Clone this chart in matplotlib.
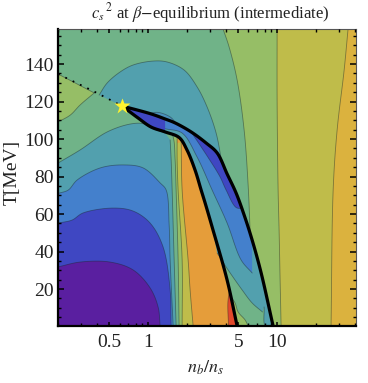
import numpy as np
import matplotlib
matplotlib.use("Agg")
import matplotlib.pyplot as plt
from matplotlib.ticker import FixedLocator, FixedFormatter, NullFormatter

plt.rcParams['font.family'] = ['Liberation Serif', 'DejaVu Serif']
plt.rcParams['mathtext.fontset'] = 'stix'

# colours of the contour levels
PURPLE = '#5A1FA0'
DARKBLUE = '#3F47C2'
BLUE = '#4480CC'
TEAL = '#52A0AE'
GREEN = '#70B388'
LIME = '#96BE66'
YELLOW = '#BFBC4A'
GOLD = '#DBB23E'
ORANGE = '#E59D3A'
RED = '#E2492B'

N_MIN, N_MAX = 0.2, 40.9
T_MIN, T_MAX = 0.3, 158.7

# all curves below are (n_b/n_s, T)
star = (0.629, 117.6)
dotted_line = [(0.2, 134.7), (0.375, 125.6), star]

upper_black = [star, (1.055, 113.4), (1.355, 110.7), (1.619, 108.6), (2.155, 103.8), (2.815, 97.9),
               (3.428, 92.6), (4.096, 81.4), (4.81, 71.2), (5.55, 59.5), (6.40, 46.2),
               (7.52, 28.6), (9.31, 0.3)]
lower_black = [star, (0.837, 111.2), (1.055, 106.4), (1.355, 103.8), (1.74, 100.8), (2.0, 94.2),
               (2.31, 83.5), (2.576, 72.8), (2.766, 65.9), (3.135, 53.1), (4.096, 24.8), (4.898, 0.3)]

# right hand side bands
lime_edge = [(3.81, 158.7), (4.245, 149.1), (4.898, 131.5), (5.55, 104.8), (5.96, 75.5), (6.18, 50.4)]
yellow_edge = [(10, 158.7), (10, 120.8), (10.18, 72.8), (10.36, 51.5), (10.55, 24.8), (10.74, 0.3)]
gold_edge = [(35.5, 158.7), (33.1, 136.8), (29.2, 104.8), (27.2, 72.8), (26.2, 0.3)]

# top left
lime_corner_top = [(0.2, 134.7), (0.382, 124.6)]
lime_corner_low = [(0.382, 124.6), (0.297, 118.2), (0.249, 112.8), (0.2, 109.1)]
teal_dome = [(0.417, 123.5), (0.481, 129.9), (0.607, 135.8), (0.765, 139.5), (1.093, 141.6),
             (1.404, 141.1), (1.902, 136.8), (2.398, 127.8), (2.866, 117.1), (3.366, 103.2),
             (3.74, 87.0)]
bump = [(1.036, 113.9), (1.2, 114.2), (1.481, 111.8), (1.65, 108.4)]

# stacked bands left of the lower black line
yellow_right = [(1.803, 98.4), (1.835, 72.8), (2.042, 35.5), (2.116, 19.5), (2.233, 0.3)]
lime_right = [(1.678, 101.6), (1.678, 88.8), (1.708, 72.8), (1.835, 35.5), (1.835, 0.3)]
green_right = [(1.429, 105.9), (1.563, 101.1), (1.619, 88.8), (1.648, 72.8), (1.708, 35.5), (1.738, 0.3)]
teal_top = [(0.2, 87.2), (0.297, 94.2), (0.481, 103.8), (0.725, 108.0), (0.915, 108.2), (1.05, 106.0), (1.355, 103.3)]
teal_right = [(1.481, 99.5), (1.508, 88.8), (1.535, 72.8), (1.591, 35.5), (1.648, 0.3)]
blue_top = [(0.2, 71.0), (0.24, 72.8), (0.282, 78.2), (0.425, 84.6), (0.64, 86.2), (0.915, 84.6),
            (1.239, 76.6), (1.38, 72.8), (1.455, 54.2), (1.481, 35.5), (1.563, 0.3)]
darkblue_top = [(0.2, 55.2), (0.257, 56.8), (0.313, 60.6), (0.535, 63.2), (0.765, 61.6), (1.036, 55.2),
                (1.307, 42.4), (1.481, 19.5), (1.508, 0.3)]
purple_top = [(0.2, 31.8), (0.297, 34.4), (0.507, 34.4), (0.765, 30.2), (1.036, 20.6), (1.195, 10.4), (1.239, 0.3)]
red_left = [(4.27, 19.5), (4.15, 12.6), (4.2, 0.3)]

# inside the region between the two black lines
wedge_teal_low = [(3.428, 39.2), (4.17, 30.2), (5.36, 19.5), (6.40, 12.6), (7.7, 7.8)]
wedge_spike = [(7.93, 10.4), (8.1, 0.3), (9.31, 0.3)]
wedge_lime = [(4.38, 15.8), (4.72, 12.6), (4.985, 7.8), (5.65, 3.5), (5.96, 0.3)]
wedge_blue_left = [(1.355, 105.5), (1.835, 103.2), (2.398, 90.4), (3.135, 72.8), (4.096, 55.2), (5.26, 35.5), (6.40, 28.6)]
wedge_dark_left = [(2.155, 103.8), (2.866, 91.0), (3.6, 80.0), (4.024, 72.8), (4.81, 63.5), (5.4, 63.0)]

x_major = [0.5, 1, 5, 10]
x_labels = ['0.5', '1', '5', '10']
x_minor = [0.2, 0.3, 0.4, 0.6, 0.7, 0.8, 0.9, 2, 3, 4, 6, 7, 8, 9, 20, 30, 40]
y_major = [20, 40, 60, 80, 100, 120, 140]
y_minor = [v for v in range(5, 160, 5) if v % 20 != 0]


def smooth(pts, k=10):
    # centripetal Catmull-Rom through the read points, log n and T scaled alike
    p = np.array(pts, dtype=float)
    if len(p) < 3:
        return p
    p[:, 0] = np.log10(p[:, 0]) * 129
    p[:, 1] = p[:, 1] * 1.875
    p = np.vstack([2 * p[0] - p[1], p, 2 * p[-1] - p[-2]])
    out = []
    for i in range(1, len(p) - 2):
        p0, p1, p2, p3 = p[i - 1], p[i], p[i + 1], p[i + 2]
        t1 = np.linalg.norm(p1 - p0) ** 0.5
        t2 = t1 + np.linalg.norm(p2 - p1) ** 0.5
        t3 = t2 + np.linalg.norm(p3 - p2) ** 0.5
        for t in np.linspace(t1, t2, k, endpoint=False):
            a1 = ((t1 - t) * p0 + t * p1) / t1
            a2 = ((t2 - t) * p1 + (t - t1) * p2) / (t2 - t1)
            a3 = ((t3 - t) * p2 + (t - t2) * p3) / (t3 - t2)
            b1 = ((t2 - t) * a1 + t * a2) / t2
            b2 = ((t3 - t) * a2 + (t - t1) * a3) / (t3 - t1)
            out.append(((t2 - t) * b1 + (t - t1) * b2) / (t2 - t1))
    out.append(p[-2])
    out = np.array(out)
    out[:, 0] = 10 ** (out[:, 0] / 129)
    out[:, 1] = out[:, 1] / 1.875
    return out


fig = plt.figure(figsize=(3.68, 3.83), dpi=100)
ax = fig.add_axes([58 / 368, 57 / 383, 298 / 368, 297 / 383])
ax.set_facecolor(GREEN)
ax.set_xscale('log')
ax.set_xlim(N_MIN, N_MAX)
ax.set_ylim(T_MIN, T_MAX)

z = [1.0]


def region(pieces, color, edge=True):
    # pieces are curves joined in order, smoothed one by one
    curves = [smooth(c) for c in pieces]
    poly = np.vstack(curves)
    z[0] += 0.01
    ax.fill(poly[:, 0], poly[:, 1], color=color, lw=0, zorder=z[0])
    if edge:
        for c in curves:
            ax.plot(c[:, 0], c[:, 1], color=(0.1, 0.15, 0.15, 0.45), lw=0.6, zorder=z[0] + 0.001)


def part(curve, a, b):
    return [p for p in curve if a <= p[0] <= b]


corner_bl = [(N_MIN, T_MIN), (N_MIN, 80)]

# right bands
black_low = [p for p in upper_black if p[0] >= 6.40]
region([lime_edge, black_low, [(N_MAX, T_MIN), (N_MAX, T_MAX)]], LIME)
region([yellow_edge, [(N_MAX, T_MIN), (N_MAX, T_MAX)]], YELLOW)
region([gold_edge, [(N_MAX, T_MIN), (N_MAX, T_MAX)]], GOLD)

# top left
region([lime_corner_top, lime_corner_low], LIME)
region([teal_dome, part(upper_black, 0.6, 3.5)[::-1]], TEAL)
region([bump, part(upper_black, 1.0, 1.62)[::-1]], '#4A8FBB')

# left of the lower black line
region([part(lower_black, 1.7, 5), corner_bl], ORANGE, edge=False)
region([red_left, [(4.898, 0.3), (4.27, 19.5)]], RED)
region([yellow_right, corner_bl], YELLOW)
region([lime_right, corner_bl], LIME)
region([green_right, corner_bl], GREEN)
region([teal_top, teal_right, [(N_MIN, T_MIN)]], TEAL)
region([blue_top, [(N_MIN, T_MIN)]], BLUE)
region([darkblue_top, [(N_MIN, T_MIN)]], DARKBLUE)
region([purple_top, [(N_MIN, T_MIN)]], PURPLE)

# between the black lines
region([upper_black, lower_black[::-1]], GREEN, edge=False)
region([wedge_lime, [(4.898, 0.3), (4.38, 15.8)]], LIME)
region([part(lower_black, 1.355, 3.2), wedge_teal_low, wedge_spike,
        part(upper_black, 1.355, 9.4)[::-1]], TEAL)
region([wedge_blue_left, [(6.40, 38.2)], part(upper_black, 1.355, 6.41)[::-1]], BLUE)
region([wedge_dark_left, part(upper_black, 2.1, 5.56)[::-1]], DARKBLUE)
region([part(upper_black, 0.6, 1.36), part(lower_black, 0.6, 1.36)[::-1]], DARKBLUE, edge=False)

for curve in (upper_black, lower_black):
    c = smooth(curve)
    ax.plot(c[:, 0], c[:, 1], color='black', lw=2.3, solid_capstyle='round', zorder=3)

ax.plot([p[0] for p in dotted_line], [p[1] for p in dotted_line], color='black', lw=1.3,
        ls=(0, (1, 3.5)), zorder=3)
ax.plot([star[0]], [star[1]], marker='*', ms=12, color='#FFF22E', mec='none', zorder=4)

ax.xaxis.set_major_locator(FixedLocator(x_major))
ax.xaxis.set_minor_locator(FixedLocator(x_minor))
ax.xaxis.set_major_formatter(FixedFormatter(x_labels))
ax.xaxis.set_minor_formatter(NullFormatter())
ax.yaxis.set_major_locator(FixedLocator(y_major))
ax.yaxis.set_minor_locator(FixedLocator(y_minor))
ax.set_axisbelow(False)
ax.tick_params(which='major', direction='in', top=True, right=True, length=4, width=1.1,
               labelsize=14, pad=3, color='black', labelcolor='#222222')
ax.tick_params(which='minor', direction='in', top=True, right=True, length=2.2, width=1.0, color='black')
ax.tick_params(axis='x', which='major', length=2.6, pad=6)

ax.spines['left'].set_linewidth(1.6)
ax.spines['bottom'].set_linewidth(1.6)
ax.spines['top'].set_linewidth(0.8)
ax.spines['right'].set_linewidth(0.8)
ax.spines['top'].set_color('#555555')
ax.spines['right'].set_color('#555555')

fig.text(210 / 368, 1 - 13 / 383, r'$c_s{}^{\,2}$ at $\beta$$-$equilibrium (intermediate)', ha='center',
         va='center', fontsize=12, color='#222222')
fig.text(205 / 368, 1 - 368 / 383, r'$n_b/n_s$', ha='center', va='center', fontsize=13, color='#222222')
fig.text(12 / 368, 1 - 172 / 383, 'T[MeV]', rotation=90, ha='center', va='center', fontsize=14, color='#222222')

fig.savefig('out.png', dpi=100)
